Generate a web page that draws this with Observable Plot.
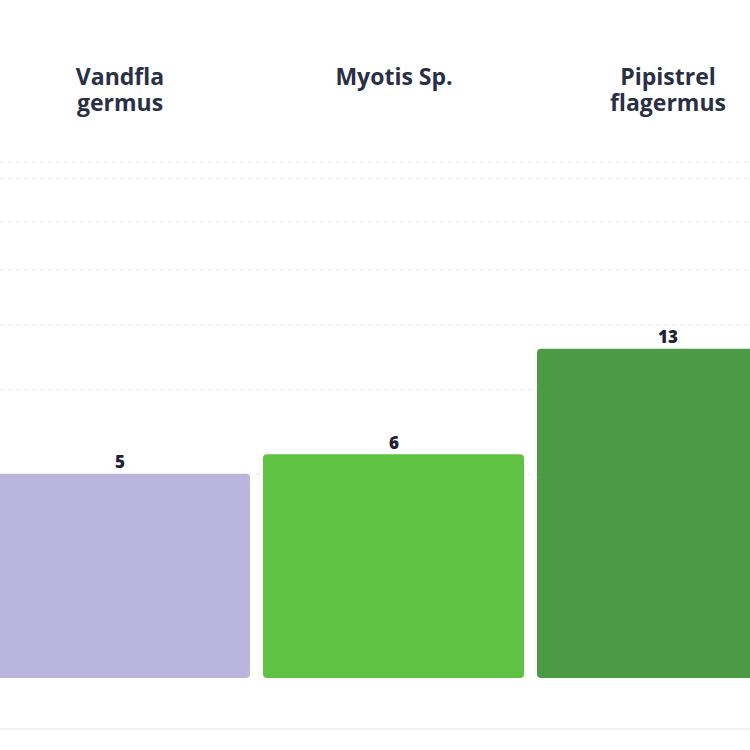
<!DOCTYPE html>
<html><head><meta charset="utf-8">
<script src="https://cdn.jsdelivr.net/npm/d3@7"></script>
<script src="https://cdn.jsdelivr.net/npm/@observablehq/plot@0.6"></script>
<style>
body{margin:0;background:#fff;}
#chart{width:750px;height:750px;overflow:hidden;position:relative;background:#fff;}
#baseline{position:absolute;left:0;top:728px;width:750px;height:2px;background:#f0f0f2;}
</style>
</head><body><div id="chart"><div id="baseline"></div></div>
<script>
const categories = ["Vandflagermus", "Myotis Sp.", "Pipistrel flagermus"];
const categoryLabels = ["Vandfla\ngermus", "Myotis Sp.", "Pipistrel\nflagermus"];
const values = [5, 6, 13];
const colors = ["#bab5dd", "#60c243", "#4c9a46"];
const gridTicks = [5, 10, 15, 20, 25, 30, 32];

const data = categories.map((c, i) => ({cat: c, label: categoryLabels[i], value: values[i], color: colors[i]}));

const chart = Plot.plot({
  width: 750,
  height: 750,
  marginTop: 0, marginBottom: 0, marginLeft: 0, marginRight: 0,
  style: {fontFamily: "'Open Sans', sans-serif", background: "transparent"},
  x: {domain: categories, range: [-24, 811], padding: 13 / 274, round: false, axis: null},
  y: {type: "sqrt", domain: [0, 36], range: [678, 678 - 91.3 * 6], axis: null},
  color: {type: "identity"},
  marks: [
    Plot.ruleY(gridTicks, {stroke: "#e8e8eb", strokeWidth: 1, strokeDasharray: "4,4"}),
    Plot.barY(data, {x: "cat", y: "value", fill: "color", rx: 4}),
    Plot.text(data, {x: "cat", y: "value", text: d => String(d.value), lineAnchor: "bottom", dy: -6, fontSize: 17, fontWeight: 800, fill: "#1f2236"}),
    Plot.text(data, {x: "cat", text: "label", frameAnchor: "top", lineAnchor: "top", dy: 67, fontSize: 23, fontWeight: 700, lineHeight: 1.1, fill: "#2a2f45"})
  ]
});
document.getElementById("chart").appendChild(chart);
</script>
</body></html>
